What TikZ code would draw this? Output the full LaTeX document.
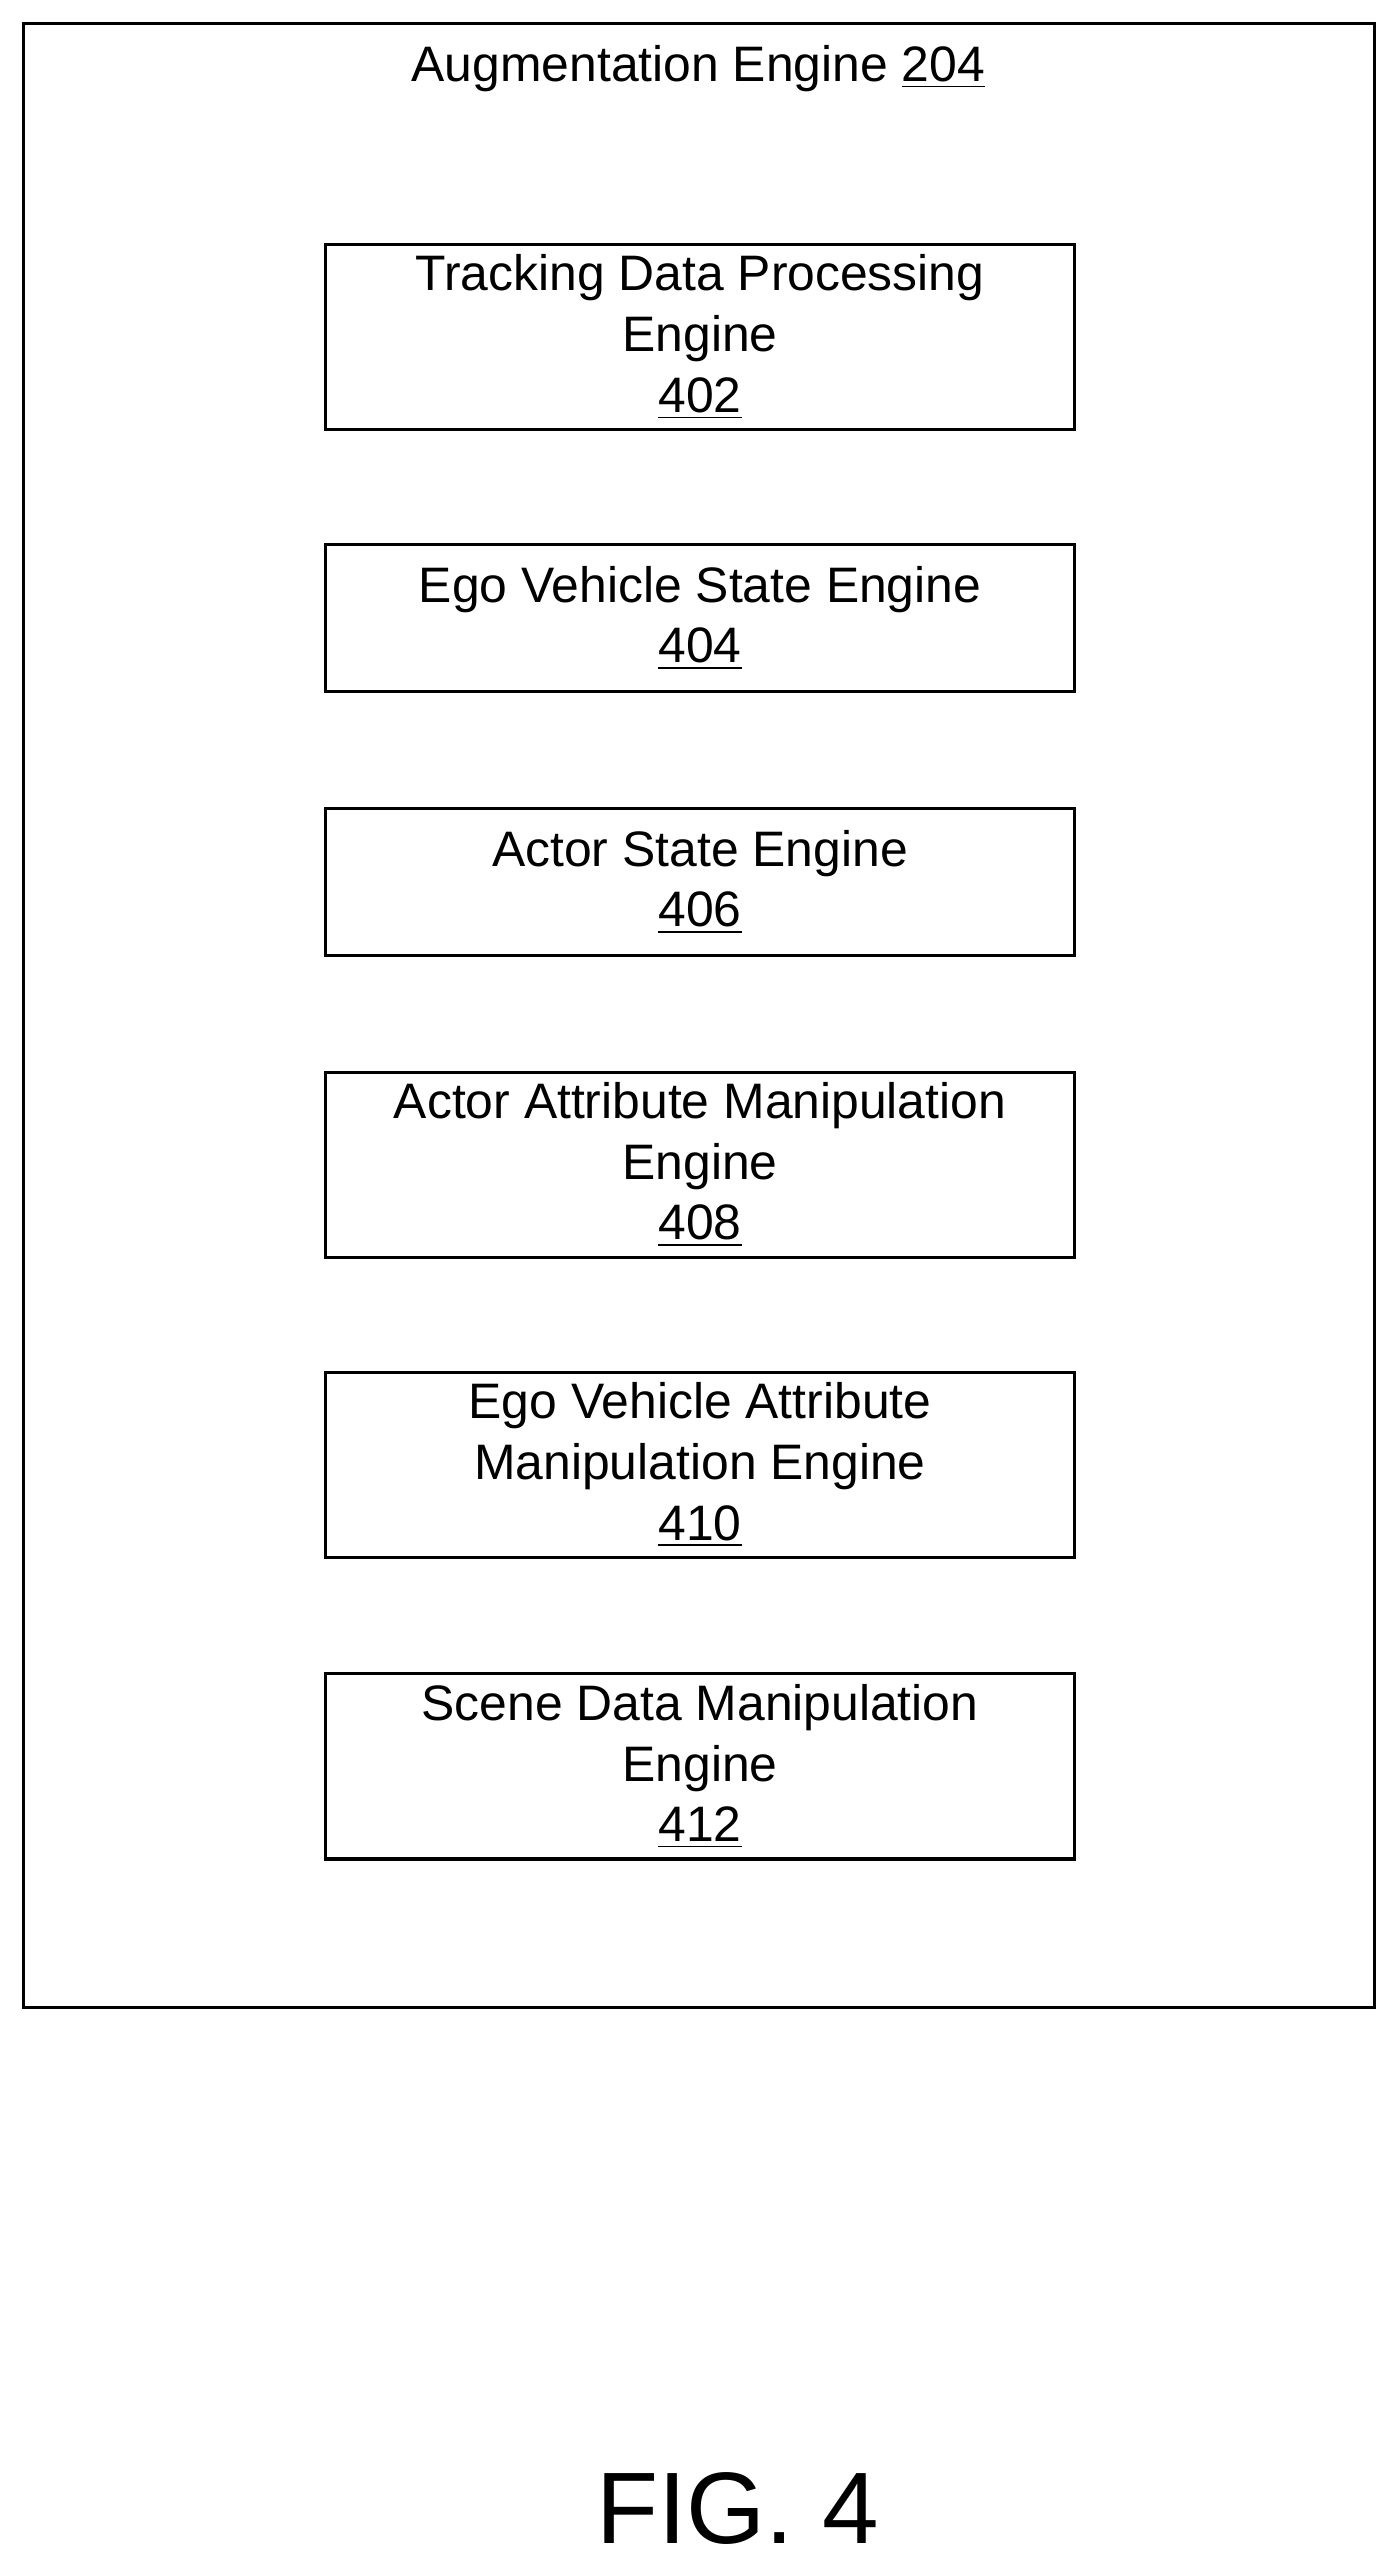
\documentclass[tikz,border=0pt]{standalone}
\usepackage{fontspec}
\setmainfont{Liberation Sans}
\begin{document}
\begin{tikzpicture}[x=0.5pt,y=-0.5pt,
  eng/.style={draw,line width=1pt,minimum width=228.5pt,align=center,font=\fontsize{15.2}{18.5}\selectfont,inner sep=0pt}]
\useasboundingbox (0,0) rectangle (852,1564);
\node[draw,line width=1pt,minimum width=412pt,minimum height=605pt,inner sep=0pt] (outer) at (426.5,619.5) {};
\node[font=\fontsize{15.2}{18.5}\selectfont] (title) at (426,42) {Augmentation Engine \underline{204}};
\node[eng,minimum height=56.5pt] (e402) at (427,205.5) {Tracking Data Processing\\Engine\\\underline{402}};
\node[eng,minimum height=45pt] (e404) at (427,377) {Ego Vehicle State Engine\\\underline{404}};
\node[eng,minimum height=45pt] (e406) at (427,538) {Actor State Engine\\\underline{406}};
\node[eng,minimum height=56.5pt] (e408) at (427,710.5) {Actor Attribute Manipulation\\Engine\\\underline{408}};
\node[eng,minimum height=56.5pt] (e410) at (427,893.5) {Ego Vehicle Attribute\\Manipulation Engine\\\underline{410}};
\node[eng,minimum height=56.5pt] (e412) at (427,1077.5) {Scene Data Manipulation\\Engine\\\underline{412}};
\node[font=\fontsize{31}{36}\selectfont] (fig) at (450,1530) {FIG. 4};
\end{tikzpicture}
\end{document}
